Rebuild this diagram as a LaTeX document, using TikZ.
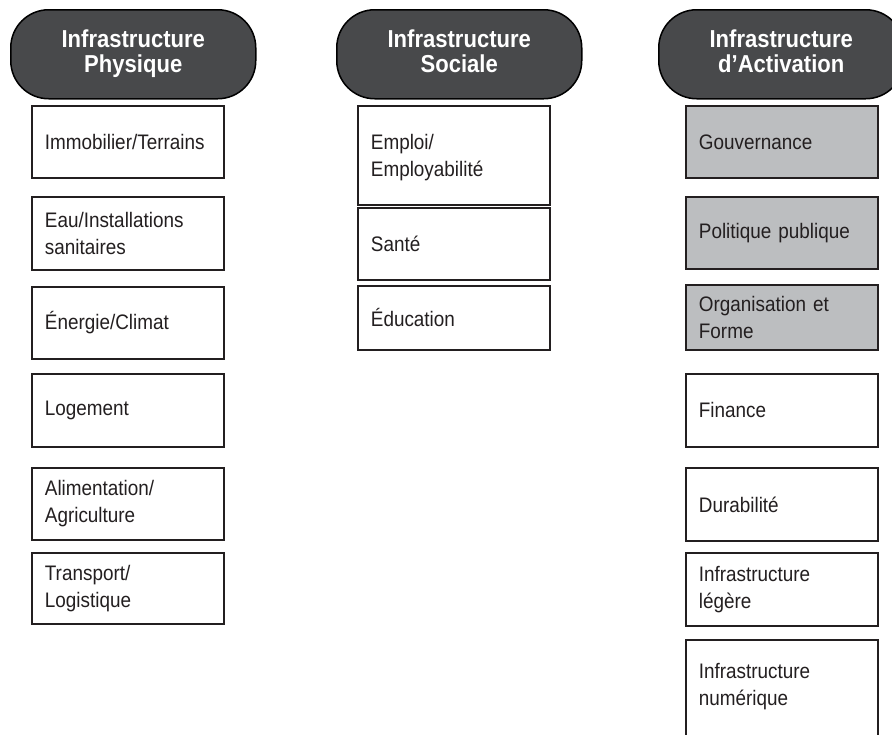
\documentclass[tikz,border=0pt]{standalone}
\usepackage{fontspec}
\setmainfont{Liberation Sans}[FakeStretch=0.9]
\definecolor{hdrfill}{HTML}{48494B}
\definecolor{ink}{HTML}{231F20}
\definecolor{cellgray}{HTML}{BCBEC0}
\begin{document}
\begin{tikzpicture}[x=1pt, y=-1pt,
  header/.style={draw=black, line width=1.5pt, fill=hdrfill, rounded corners=38pt,
    minimum width=245pt, minimum height=89pt, anchor=north west, inner sep=0pt,
    align=center, text=white, text depth=7pt, font=\fontsize{24.5}{25}\selectfont\bfseries},
  cell/.style={draw=ink, line width=1.8pt, fill=white, anchor=north west,
    minimum width=192pt, inner xsep=13pt, inner ysep=0pt, text width=166pt,
    align=left, text=ink, font=\fontsize{21}{27}\selectfont},
  shaded/.style={cell, fill=cellgray}]
\useasboundingbox (0,0) rectangle (892,734);
\begin{scope}
\clip (0,0) rectangle (892,734);

% column headers
\node[header] (hphys) at (10,9) {Infrastructure\\Physique};
\node[header] (hsoc) at (336,9) {Infrastructure\\Sociale};
\node[header] (hact) at (658,9) {Infrastructure\\d’Activation};

% physical infrastructure
\node[cell, minimum height=72pt] (p1) at (31,105) {Immobilier/Terrains};
\node[cell, minimum height=73pt] (p2) at (31,196) {Eau/Installations\\sanitaires};
\node[cell, minimum height=72pt] (p3) at (31,286) {Énergie/Climat};
\node[cell, minimum height=73pt] (p4) at (31,373) {Logement};
\node[cell, minimum height=72pt] (p5) at (31,467) {Alimentation/\\Agriculture};
\node[cell, minimum height=71pt] (p6) at (31,552) {Transport/\\Logistique};

% social infrastructure
\node[cell, minimum height=99pt, text depth=27pt] (s1) at (357,105) {Emploi/\\Employabilité};
\node[cell, minimum height=72pt] (s2) at (357,207) {Santé};
\node[cell, minimum height=64pt] (s3) at (357,285) {Éducation};

% enabling infrastructure
\node[shaded, minimum height=72pt] (a1) at (685,105) {Gouvernance};
\node[shaded, minimum height=72pt] (a2) at (685,196) {Politique publique};
\node[shaded, minimum height=65pt] (a3) at (685,284) {Organisation et\\Forme};
\node[cell, minimum height=73pt] (a4) at (685,373) {Finance};
\node[cell, minimum height=73pt] (a5) at (685,467) {Durabilité};
\node[cell, minimum height=73pt] (a6) at (685,552) {Infrastructure\\légère};
\node[cell, minimum height=110pt, text depth=48pt] (a7) at (685,639) {Infrastructure\\numérique};
\end{scope}
\end{tikzpicture}
\end{document}
